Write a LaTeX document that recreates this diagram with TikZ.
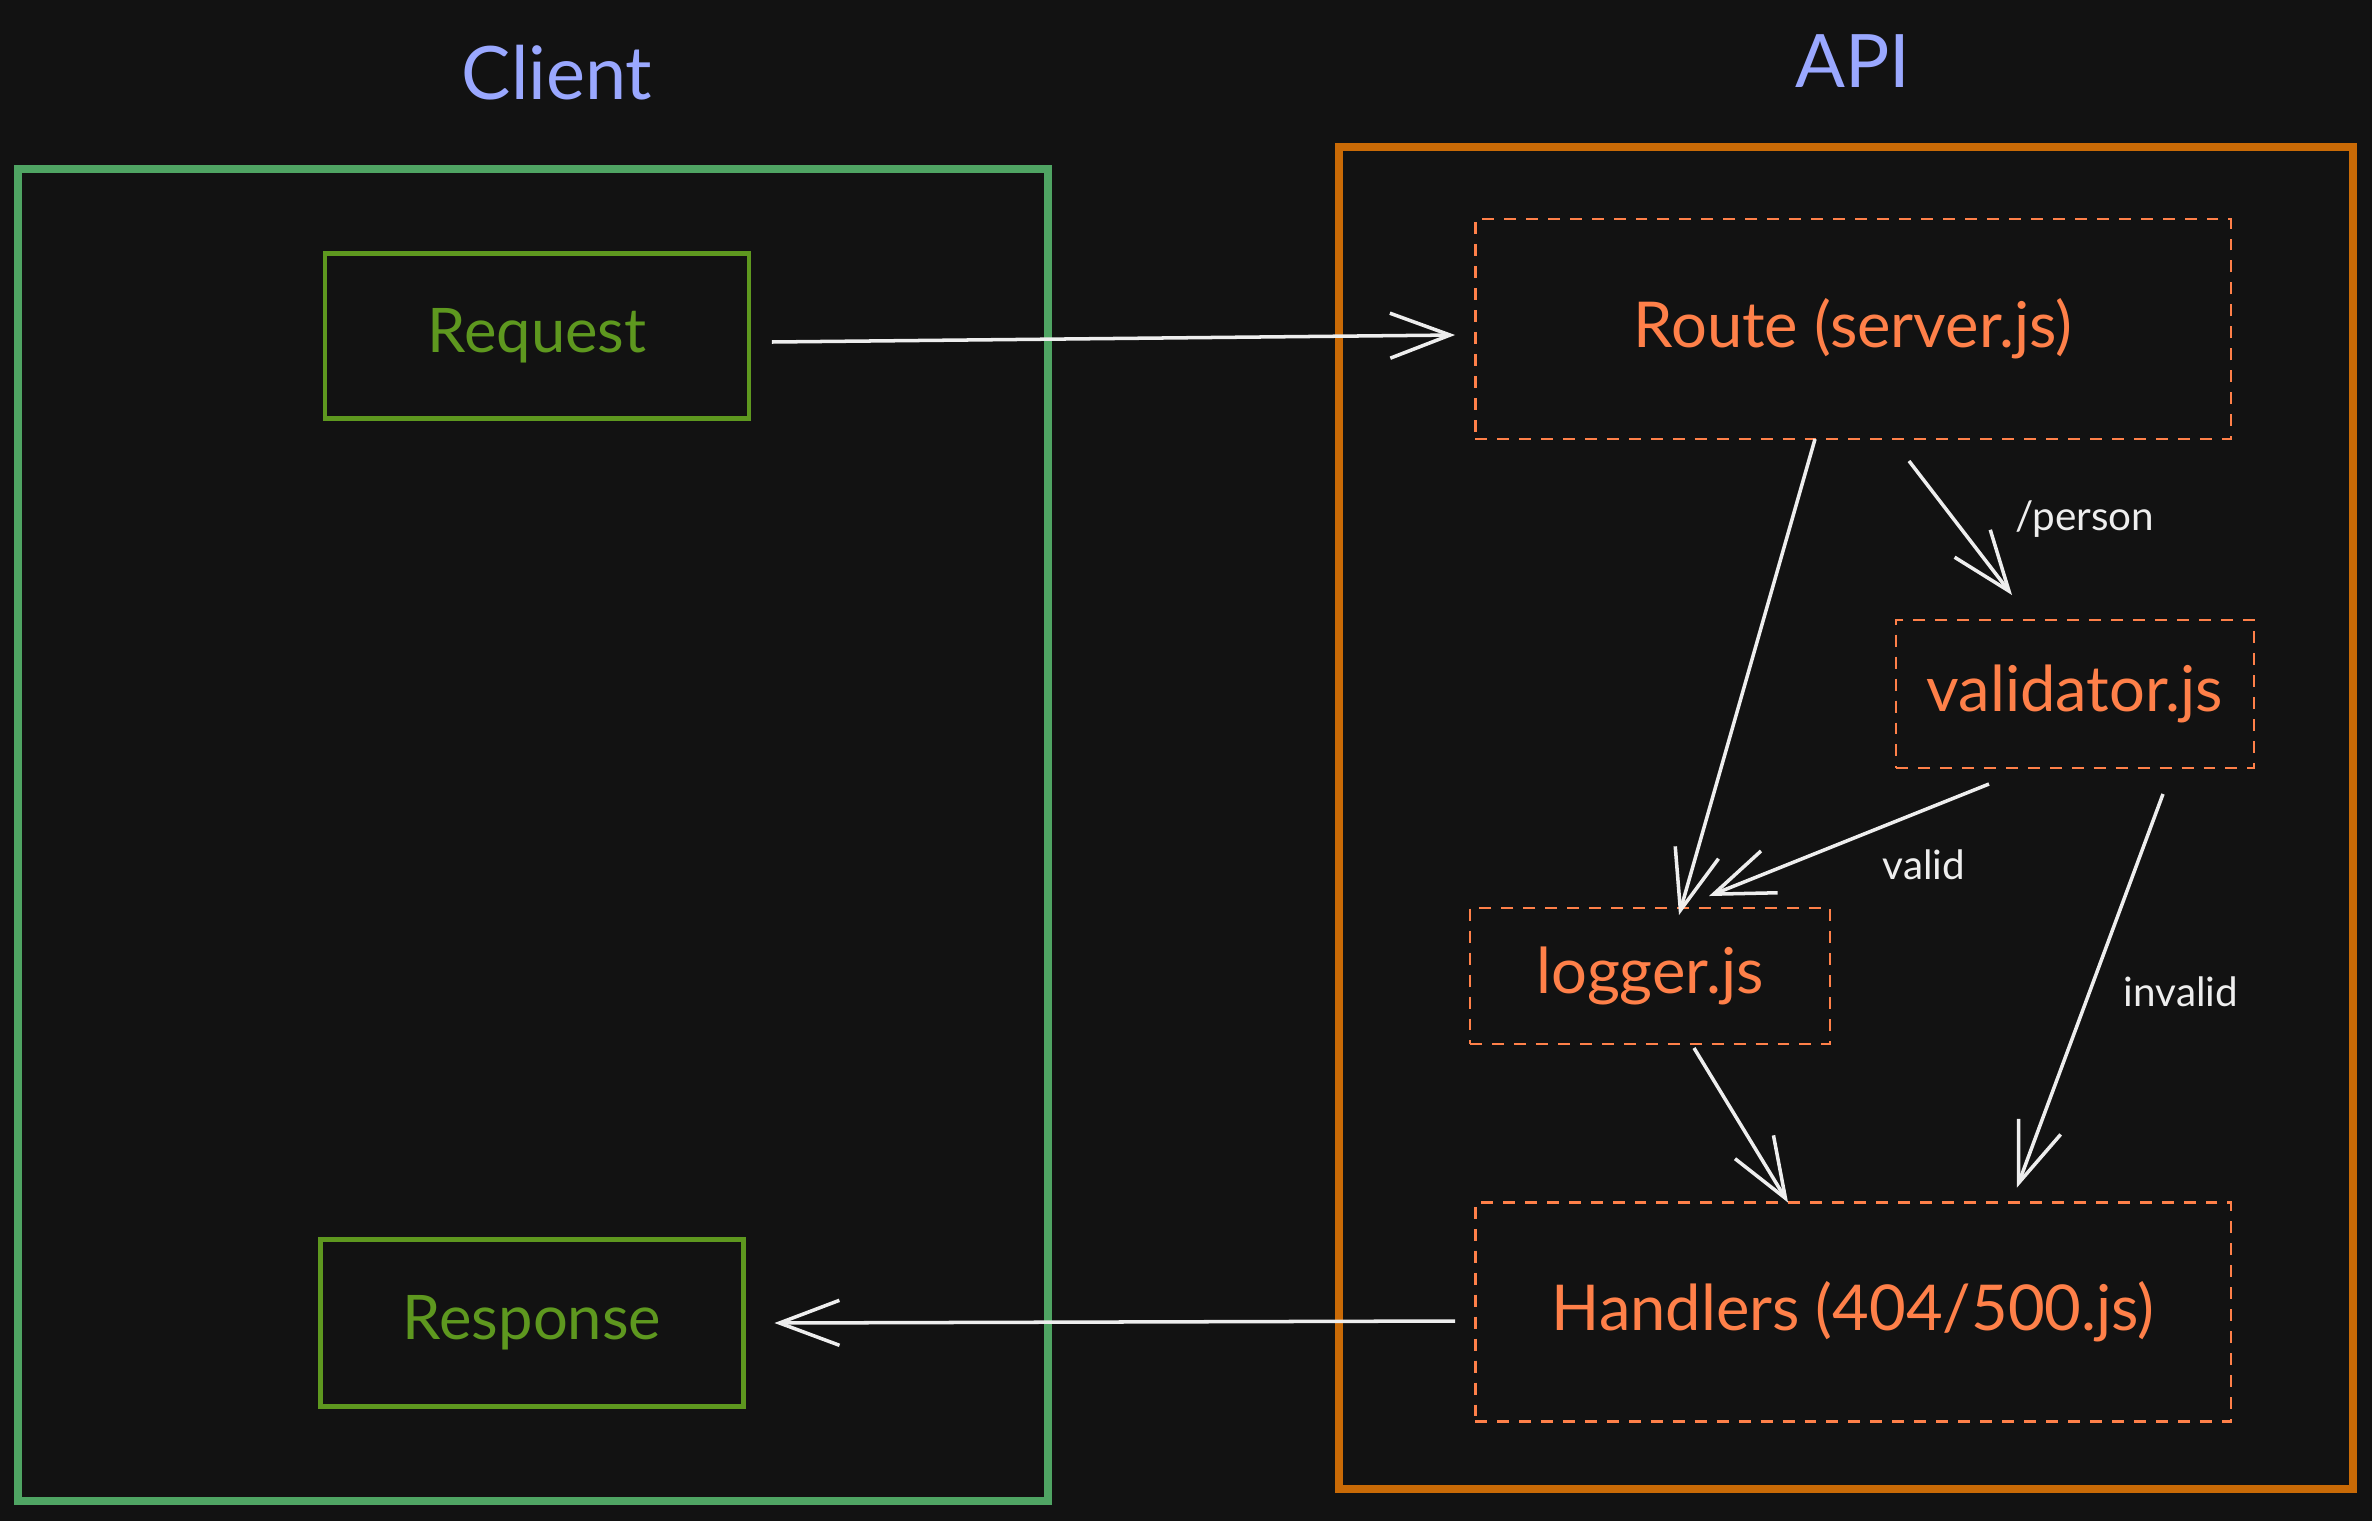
\documentclass[tikz,border=0pt]{standalone}
\usepackage{fontspec}
\setmainfont{Lato}
\usetikzlibrary{arrows.meta}
\definecolor{bg}{HTML}{121212}
\definecolor{titleblue}{HTML}{9AA8FF}
\definecolor{clientgreen}{HTML}{4FA463}
\definecolor{boxgreen}{HTML}{5E981F}
\definecolor{apiorange}{HTML}{C96A06}
\definecolor{coral}{HTML}{FF8049}
\definecolor{ink}{HTML}{EEEEEE}
\tikzset{
  title/.style={text=titleblue, font=\fontsize{42}{48}\selectfont},
  frame/.style={draw, line width=4.6pt, inner sep=0pt, outer sep=0pt},
  endbox/.style={draw=boxgreen, line width=2.6pt, text=boxgreen, inner sep=0pt, outer sep=0pt, font=\fontsize{35}{40}\selectfont},
  filebox/.style={draw=coral, line width=1.6pt, dash pattern=on 6.8pt off 5.7pt, text=coral, inner sep=0pt, outer sep=0pt, font=\fontsize{36}{42}\selectfont},
  flow/.style={draw=ink, line width=2pt, -{Straight Barb[length=1.2cm, width=0.9cm, line width=2pt]}},
  edgelabel/.style={text=ink, font=\fontsize{23}{27}\selectfont, inner sep=0pt}
}
\begin{document}
\begin{tikzpicture}[x=0.02cm, y=-0.02cm]
\fill[bg] (0,0) rectangle (2372,1521);
\useasboundingbox (0,0) rectangle (2372,1521);

% titles
\node[title] (clienttitle) at (557,73) {Client};
\node[title] (apititle) at (1853,61) {API};

% containers
\node[frame, draw=clientgreen, minimum width=20.6cm, minimum height=26.66cm] (client) at (533,835) {};
\node[frame, draw=apiorange, minimum width=20.3cm, minimum height=26.86cm] (api) at (1846,818) {};

% client boxes
\node[endbox, minimum width=8.48cm, minimum height=3.3cm] (request) at (537,336) {Request};
\node[endbox, minimum width=8.46cm, minimum height=3.34cm] (response) at (532,1323) {Response};

% api boxes
\node[filebox, minimum width=15.12cm, minimum height=4.4cm] (route) at (1853,329) {Route (server.js)};
\node[filebox, minimum width=7.16cm, minimum height=2.96cm] (validator) at (2075,694) {validator.js};
\node[filebox, minimum width=7.2cm, minimum height=2.72cm] (logger) at (1650,976) {logger.js};
\node[filebox, minimum width=15.12cm, minimum height=4.38cm] (handlers) at (1853,1312) {Handlers (404/500.js)};

% connectors
\draw[flow] ([xshift=0.46cm, yshift=-0.12cm]request.east) -- ([xshift=-0.4cm, yshift=-0.12cm]route.west);
\draw[flow] ([xshift=-0.76cm]route.south) -- ([xshift=0.58cm, yshift=-0.14cm]logger.north);
\draw[flow] ([xshift=1.12cm, yshift=-0.44cm]route.south) -- ([xshift=-1.26cm, yshift=0.5cm]validator.north);
\draw[flow] ([xshift=-1.72cm, yshift=-0.32cm]validator.south) -- ([xshift=1.18cm, yshift=0.24cm]logger.north);
\draw[flow] ([xshift=1.76cm, yshift=-0.52cm]validator.south) -- ([xshift=3.28cm, yshift=0.3cm]handlers.north);
\draw[flow] ([xshift=0.88cm, yshift=-0.08cm]logger.south) -- ([xshift=-1.3cm]handlers.north);
\draw[flow] ([xshift=-0.4cm, yshift=-0.18cm]handlers.west) -- ([xshift=0.62cm]response.east);

% edge labels
\node[edgelabel] (lperson) at (2085,519) {/person};
\node[edgelabel] (lvalid) at (1924,865) {valid};
\node[edgelabel] (linvalid) at (2181,992) {invalid};
\end{tikzpicture}
\end{document}
